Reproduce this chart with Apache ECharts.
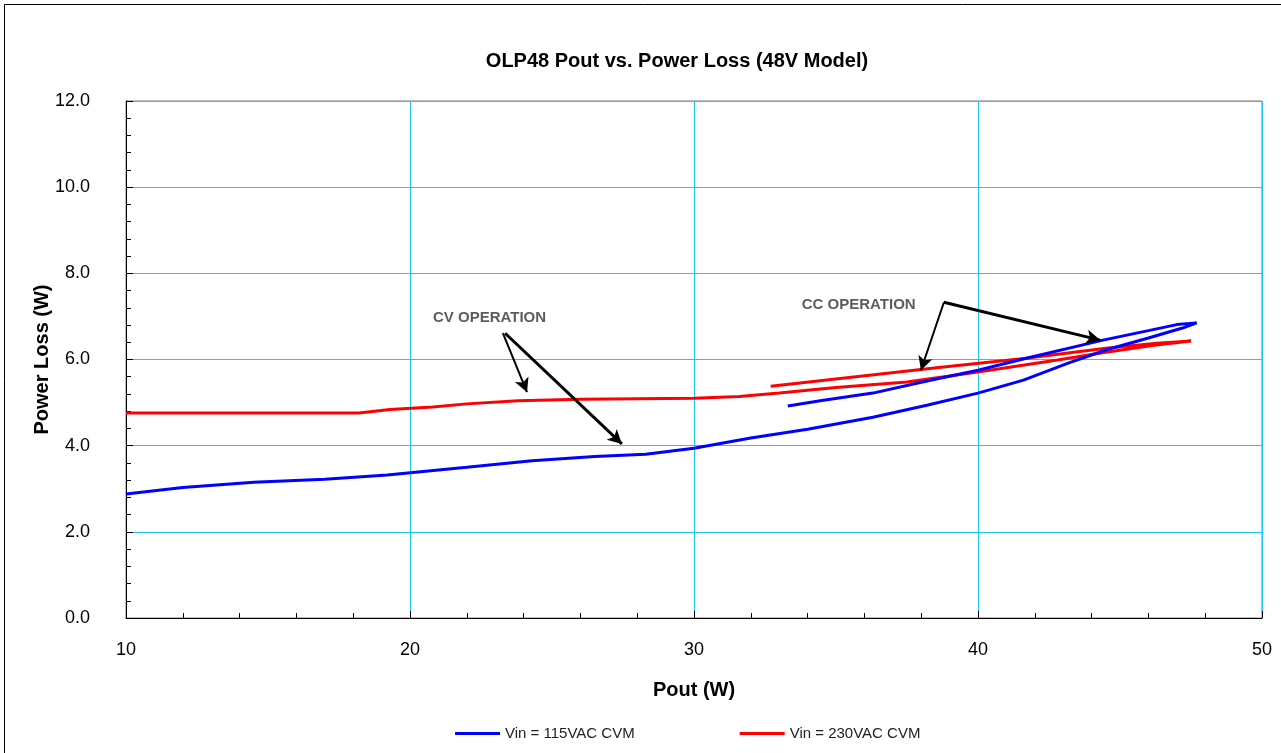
<!DOCTYPE html>
<html>
<head>
<meta charset="utf-8">
<script src="https://cdn.jsdelivr.net/npm/echarts@6/dist/echarts.min.js"></script>
<style>
html,body{margin:0;padding:0;background:#fff;}
#c{width:1281px;height:753px;}
</style>
</head>
<body>
<div id="c"></div>
<script>
// ---- data ----
const xTicks = [10, 20, 30, 40, 50];
const yTicks = [0, 2, 4, 6, 8, 10, 12];
const seriesNames = ['Vin = 115VAC CVM', 'Vin = 230VAC CVM'];

const blueX = [10, 12, 14.5, 17, 19.2, 22, 24.3, 26.5, 28.3, 30, 32, 34, 36.3, 38.2, 40, 41.6, 43.2, 44.5, 46, 47.2, 47.7,
               47.0, 46.0, 44.4, 41.7, 40, 38.2, 36.3, 34.5, 33.3];
const blueY = [2.88, 3.03, 3.15, 3.22, 3.32, 3.50, 3.65, 3.75, 3.80, 3.94, 4.18, 4.38, 4.66, 4.94, 5.22, 5.52, 5.92, 6.22, 6.50, 6.73, 6.85,
               6.81, 6.67, 6.45, 6.03, 5.75, 5.50, 5.22, 5.05, 4.92];

const redX = [10, 14, 18.2, 19.3, 20.8, 22, 23.8, 26, 28, 30, 31.6, 33, 35, 37.5, 40, 42.8, 44.5, 46.2, 47.5,
              46.3, 44.5, 41.7, 38.7, 35.7, 32.7];
const redY = [4.76, 4.76, 4.76, 4.84, 4.90, 4.97, 5.04, 5.08, 5.09, 5.10, 5.14, 5.22, 5.35, 5.48, 5.71, 5.99, 6.17, 6.33, 6.43,
              6.38, 6.26, 6.03, 5.82, 5.60, 5.38];

const annotTexts = ['CV OPERATION', 'CC OPERATION'];
const annotTextAt = [[22.8, 6.96], [35.8, 7.26]];
const annotArrows = [
  [[23.27, 6.61], [24.12, 5.24], 2],
  [[23.35, 6.61], [27.46, 4.04], 3],
  [[38.8, 7.33], [37.99, 5.75], 2],
  [[38.8, 7.33], [44.3, 6.45], 3]
];

const zip = (xs, ys) => xs.map((x, i) => [x, ys[i]]);

const chart = echarts.init(document.getElementById('c'));
const FONT = '"Liberation Sans", Arial, sans-serif';

chart.setOption({
  animation: false,
  backgroundColor: '#fff',
  graphic: [{
    type: 'rect', shape: {x: 4.5, y: 4.5, width: 1300, height: 800},
    style: {fill: 'none', stroke: '#000', lineWidth: 1}, silent: true, z: -10
  }],
  title: {
    text: 'OLP48 Pout vs. Power Loss (48V Model)',
    left: 672, top: 46, textAlign: 'center',
    textStyle: {fontFamily: FONT, fontSize: 20, fontWeight: 'bold', color: '#000'}
  },
  legend: {
    bottom: 7, left: 450,
    itemGap: 105, itemWidth: 45, itemHeight: 3,
    icon: 'rect',
    textStyle: {fontFamily: FONT, fontSize: 15, color: '#222'},
    data: seriesNames
  },
  grid: {
    left: 126, right: 19, top: 101, bottom: 135,
    show: true, borderColor: '#808080', borderWidth: 1, containLabel: false
  },
  xAxis: {
    type: 'value', min: xTicks[0], max: xTicks[xTicks.length - 1], interval: 10,
    name: 'Pout (W)', nameLocation: 'middle', nameGap: 62, nameMoveOverlap: false,
    nameTextStyle: {fontFamily: FONT, fontSize: 20, fontWeight: 'bold', color: '#000'},
    axisLine: {show: true, onZero: false, lineStyle: {color: '#000', width: 1}},
    axisTick: {show: true, inside: true, length: 7, lineStyle: {color: '#000'}},
    minorTick: {show: true, splitNumber: 5, length: 5, lineStyle: {color: '#000'}},
    axisLabel: {fontFamily: FONT, fontSize: 18, color: '#000', margin: 23,
                showMinLabel: true, showMaxLabel: true},
    splitLine: {show: true, lineStyle: {color: '#1ec6f0', width: 1}}
  },
  yAxis: {
    type: 'value', min: yTicks[0], max: yTicks[yTicks.length - 1], interval: 2,
    name: 'Power Loss (W)', nameLocation: 'middle', nameGap: 74, nameRotate: 90, nameMoveOverlap: false,
    nameTextStyle: {fontFamily: FONT, fontSize: 20, fontWeight: 'bold', color: '#000'},
    axisLine: {show: true, onZero: false, lineStyle: {color: '#000', width: 1}},
    axisTick: {show: true, inside: true, length: 7, lineStyle: {color: '#000'}},
    minorTick: {show: true, splitNumber: 5, length: 5, lineStyle: {color: '#000'}},
    axisLabel: {fontFamily: FONT, fontSize: 18, color: '#000', margin: 36,
                formatter: v => v.toFixed(1)},
    splitLine: {show: true, lineStyle: {color: '#1ec6f0', width: 1}}
  },
  series: [
    {
      name: seriesNames[0], type: 'line', data: zip(blueX, blueY),
      showSymbol: false, symbol: 'none', color: '#0000ff',
      lineStyle: {color: '#0000ff', width: 3}, z: 3
    },
    {
      name: seriesNames[1], type: 'line', data: zip(redX, redY),
      showSymbol: false, symbol: 'none', color: '#ff0000',
      lineStyle: {color: '#ff0000', width: 3}, z: 2,
      markLine: {
        silent: true, animation: false,
        symbol: ['none', 'arrow'], symbolSize: [11, 14],
        label: {show: false},
        data: annotArrows.map(a => [
          {coord: a[0], lineStyle: {color: '#000', width: a[2], type: 'solid'}},
          {coord: a[1]}
        ])
      }
    },
    {
      name: 'annot', type: 'scatter', symbolSize: 0, z: 5,
      data: annotTexts.map((t, i) => ({value: annotTextAt[i], name: t})),
      label: {show: true, position: 'inside', formatter: p => p.name,
              fontFamily: FONT, fontSize: 15, fontWeight: 'bold', color: '#333'},
      tooltip: {show: false}
    }
  ]
});
</script>
</body>
</html>
